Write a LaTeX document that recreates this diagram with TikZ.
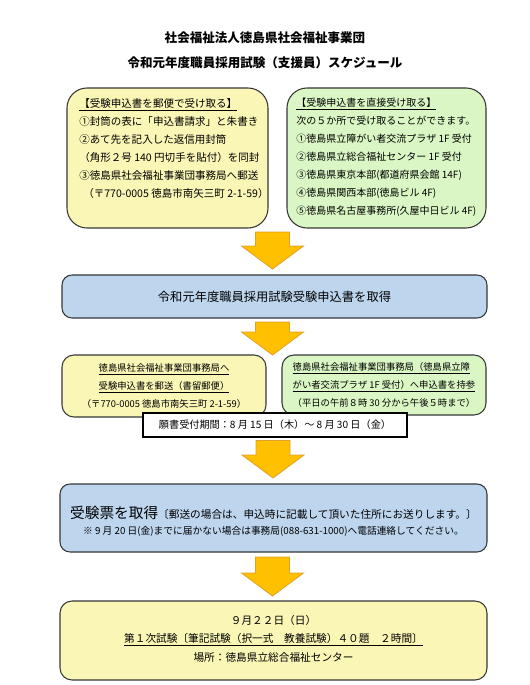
\documentclass[tikz,border=0pt]{standalone}
\usepackage{fontspec}
\setmainfont{Noto Sans CJK JP}
\usepackage{xcolor}
\usetikzlibrary{calc, positioning}

\definecolor{boxyellow}{RGB}{250,246,182}
\definecolor{boxgreen}{RGB}{218,246,196}
\definecolor{boxblue}{RGB}{189,214,238}
\definecolor{boxline}{RGB}{55,55,55}
\definecolor{arrowfill}{RGB}{255,192,0}
\definecolor{arrowedge}{RGB}{225,160,40}

% block arrow from shaft top (#1) down to tip (#2)
\newcommand{\flowarrow}[2]{%
  \filldraw[arrowbody] let \p1=(#1), \p2=(#2) in
    (\x1-12.75pt,\y1) -- (\x1+12.75pt,\y1) -- (\x1+12.75pt,\y2+17.25pt)
    -- (\x1+23.25pt,\y2+17.25pt) -- (\x1,\y2) -- (\x1-23.25pt,\y2+17.25pt)
    -- (\x1-12.75pt,\y2+17.25pt) -- cycle;
}

\begin{document}
\begin{tikzpicture}[x=0.75pt, y=-0.75pt,
    roundbox/.style={draw=boxline, line width=0.8pt, inner sep=0pt, outer sep=0pt},
    yellowbox/.style={roundbox, fill=boxyellow},
    greenbox/.style={roundbox, fill=boxgreen},
    bluebox/.style={roundbox, fill=boxblue, rounded corners=7.5pt},
    boxtext/.style={inner sep=0pt, align=left, font=\fontsize{7.9}{13.5}\selectfont},
    smalltext/.style={inner sep=0pt, font=\fontsize{7}{13.5}\selectfont},
    titletext/.style={inner sep=0pt, font=\fontsize{9.4}{12}\selectfont\bfseries},
    arrowbody/.style={fill=arrowfill, draw=arrowedge, line width=0.6pt}]
    \useasboundingbox[fill=white] (0,0) rectangle (530,685);

    % heading
    \node[titletext] (title1) at (265,38) {社会福祉法人徳島県社会福祉事業団};
    \node[titletext] (title2) at (265,63) {令和元年度職員採用試験（支援員）スケジュール};

    % two ways to get the form
    \node[yellowbox, rounded corners=15pt, minimum width=150.75pt, minimum height=105pt] (lbox) at (167.5,158) {};
    \node[greenbox, rounded corners=15pt, minimum width=149.25pt, minimum height=105pt] (rbox) at (386.5,158) {};
    \node[boxtext, anchor=north west] (ltext) at ($(lbox.north west)+(12,10)$)
        {\underline{【受験申込書を郵便で受け取る】}\\
         ①封筒の表に「申込書請求」と朱書き\\
         ②あて先を記入した返信用封筒\\
         （角形２号 140 円切手を貼付）を同封\\
         ③徳島県社会福祉事業団事務局へ郵送\\
         \hspace{3pt}（〒770-0005 徳島市南矢三町 2-1-59）};
    \node[boxtext, anchor=north west, font=\fontsize{7.5}{13.5}\selectfont] (rtext) at ($(rbox.north west)+(9,10)$)
        {\underline{【受験申込書を直接受け取る】}\\
         次の５か所で受け取ることができます。\\
         ①徳島県立障がい者交流プラザ 1F 受付\\
         ②徳島県立総合福祉センター 1F 受付\\
         ③徳島県東京本部(都道府県会館 14F)\\
         ④徳島県関西本部(徳島ビル 4F)\\
         ⑤徳島県名古屋事務所(久屋中日ビル 4F)};

    \node[bluebox, minimum width=318.75pt, minimum height=32.25pt] (step1) at (274.5,296.5)
        {\fontsize{9.2}{12}\selectfont 令和元年度職員採用試験受験申込書を取得};

    % two ways to hand it in
    \node[yellowbox, rounded corners=9pt, minimum width=153pt, minimum height=46.5pt] (lpost) at (164,386) {};
    \node[greenbox, rounded corners=9pt, minimum width=153pt, minimum height=45pt] (rhand) at (384,385) {};
    \node[smalltext, align=center] (lposttext) at (lpost.center)
        {\underline{徳島県社会福祉事業団事務局へ}\\
         \underline{受験申込書を郵送（書留郵便）}\\
         （〒770-0005 徳島市南矢三町 2-1-59）};
    \node[smalltext, align=left] (rhandtext) at (rhand.center)
        {\underline{徳島県社会福祉事業団事務局（徳島県立障}\\
         \underline{がい者交流プラザ 1F 受付）へ申込書を持参}\\
         （平日の午前８時 30 分から午後５時まで）};
    \node[draw=black, line width=0.8pt, fill=white, minimum width=198pt, minimum height=18pt, inner sep=0pt,
          font=\fontsize{7.6}{10}\selectfont] (period) at (275,425)
        {願書受付期間：8 月 15 日（木）～ 8 月 30 日（金）};

    \node[bluebox, minimum width=320.25pt, minimum height=51pt] (ticket) at (273.5,518) {};
    \node[inner sep=0pt, align=center] (tickettext) at ($(ticket.center)+(0,3)$)
        {{\fontsize{11}{16.5}\selectfont 受験票を取得}{\fontsize{8}{16.5}\selectfont 〔郵送の場合は、申込時に記載して頂いた住所にお送りします。〕}\\
         {\fontsize{7.3}{10}\selectfont ※ 9 月 20 日(金)までに届かない場合は事務局(088-631-1000)へ電話連絡してください。}};

    \node[yellowbox, rounded corners=9pt, minimum width=320.25pt, minimum height=59.25pt] (exam) at (273.5,640.5) {};
    \node[inner sep=0pt, align=center, font=\fontsize{8}{13.9}\selectfont] (examtext) at ($(exam.center)+(0,-2)$)
        {９月２２日（日）\\
         \underline{第１次試験〔筆記試験（択一式　教養試験）４０題　２時間〕}\\
         場所：徳島県立総合福祉センター};

    % arrows
    \coordinate (a1top) at ($(lbox.south -| step1.north)+(-2,4)$);
    \coordinate (a1tip) at ($(a1top |- step1.north)+(0,-6)$);
    \coordinate (a2top) at ($(step1.south)+(-2,4)$);
    \coordinate (a2tip) at (a2top |- lpost.north);
    \coordinate (a3top) at ($(period.south)+(-2,3)$);
    \coordinate (a3tip) at ($(a3top |- ticket.north)+(0,-6)$);
    \coordinate (a4top) at ($(ticket.south)+(-1,5)$);
    \coordinate (a4tip) at ($(a4top |- exam.north)+(0,-5)$);
    \flowarrow{a1top}{a1tip}
    \flowarrow{a2top}{a2tip}
    \flowarrow{a3top}{a3tip}
    \flowarrow{a4top}{a4tip}
\end{tikzpicture}
\end{document}
